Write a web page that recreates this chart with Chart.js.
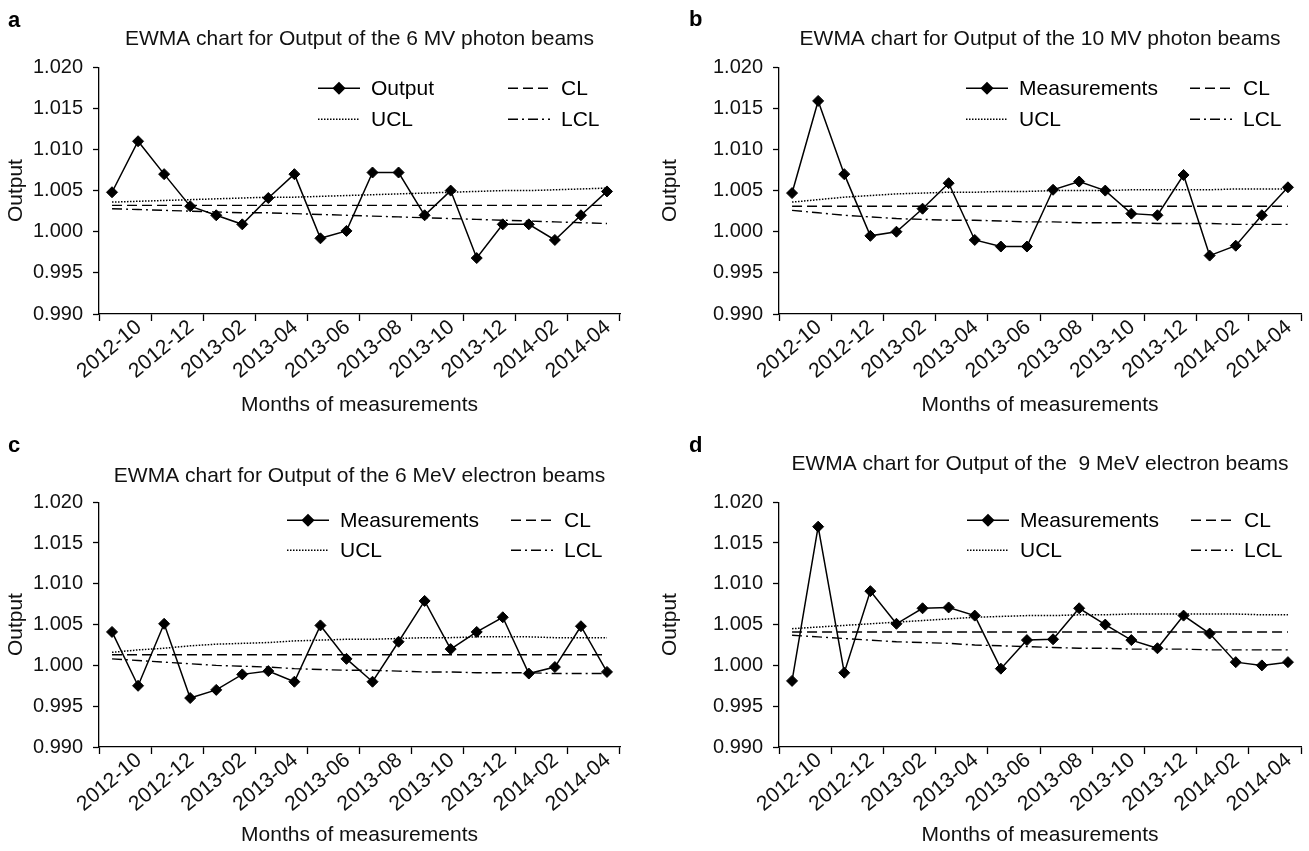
<!DOCTYPE html>
<html>
<head>
<meta charset="utf-8">
<title>EWMA charts for output</title>
<script src="https://cdn.jsdelivr.net/npm/chart.js@4.4.1/dist/chart.umd.min.js"></script>
<style>
  html, body { margin: 0; padding: 0; background: #fff; }
  #page { position: relative; width: 1309px; height: 851px; }
  #page canvas { position: absolute; }
</style>
</head>
<body>
<div id="page">
  <canvas id="chart-a" width="654" height="425" style="left:0;top:0"></canvas>
  <canvas id="chart-b" width="655" height="425" style="left:654px;top:0"></canvas>
  <canvas id="chart-c" width="654" height="426" style="left:0;top:425px"></canvas>
  <canvas id="chart-d" width="655" height="426" style="left:654px;top:425px"></canvas>
</div>
<script>
// months of measurements (20 monthly points)
const months = ['2012-10', '2012-11', '2012-12', '2013-01', '2013-02', '2013-03', '2013-04', '2013-05', '2013-06', '2013-07',
    '2013-08', '2013-09', '2013-10', '2013-11', '2013-12', '2014-01', '2014-02', '2014-03', '2014-04', '2014-05'];

const yTicks = { min: 0.990, max: 1.020, step: 0.005 };

// a - 6 MV photon
const photon6Output = [1.0048, 1.0110, 1.0070, 1.0031, 1.0020, 1.0009, 1.0041, 1.0070, 0.9992, 1.0001,
    1.0072, 1.0072, 1.0020, 1.0050, 0.9968, 1.0009, 1.0009, 0.9990, 1.0020, 1.0049];
const photon6UCL = [1.0036, 1.0037, 1.0038, 1.0039, 1.0040, 1.0041, 1.0042, 1.0042, 1.0043, 1.0044,
    1.0045, 1.0046, 1.0047, 1.0048, 1.0049, 1.0050, 1.0050, 1.0051, 1.0052, 1.0053];
const photon6CL = [1.0032, 1.0032, 1.0032, 1.0032, 1.0032, 1.0032, 1.0032, 1.0032, 1.0032, 1.0032,
    1.0032, 1.0032, 1.0032, 1.0032, 1.0032, 1.0032, 1.0032, 1.0032, 1.0032, 1.0032];
const photon6LCL = [1.0028, 1.0027, 1.0026, 1.0025, 1.0024, 1.0023, 1.0023, 1.0022, 1.0021, 1.0020,
    1.0019, 1.0018, 1.0017, 1.0016, 1.0015, 1.0014, 1.0013, 1.0012, 1.0011, 1.0010];

// b - 10 MV photon
const photon10Output = [1.0047, 1.0159, 1.0070, 0.9995, 1.0000, 1.0028, 1.0059, 0.9990, 0.9982, 0.9982,
    1.0051, 1.0061, 1.0050, 1.0022, 1.0020, 1.0069, 0.9971, 0.9983, 1.0020, 1.0054];
const photon10UCL = [1.0036, 1.0039, 1.0042, 1.0044, 1.0046, 1.0047, 1.0048, 1.0048, 1.0049, 1.0049,
    1.0050, 1.0050, 1.0050, 1.0051, 1.0051, 1.0051, 1.0051, 1.0052, 1.0052, 1.0052];
const photon10CL = [1.0031, 1.0031, 1.0031, 1.0031, 1.0031, 1.0031, 1.0031, 1.0031, 1.0031, 1.0031,
    1.0031, 1.0031, 1.0031, 1.0031, 1.0031, 1.0031, 1.0031, 1.0031, 1.0031, 1.0031];
const photon10LCL = [1.0026, 1.0023, 1.0020, 1.0018, 1.0016, 1.0015, 1.0014, 1.0014, 1.0013, 1.0012,
    1.0012, 1.0011, 1.0011, 1.0011, 1.0010, 1.0010, 1.0010, 1.0009, 1.0009, 1.0009];

// c - 6 MeV electron
const electron6Output = [1.0041, 0.9975, 1.0051, 0.9960, 0.9970, 0.9989, 0.9993, 0.9980, 1.0049, 1.0008,
    0.9980, 1.0029, 1.0079, 1.0020, 1.0041, 1.0059, 0.9990, 0.9998, 1.0048, 0.9992];
const electron6UCL = [1.0016, 1.0019, 1.0021, 1.0024, 1.0026, 1.0027, 1.0028, 1.0030, 1.0031, 1.0032,
    1.0032, 1.0033, 1.0034, 1.0034, 1.0035, 1.0035, 1.0035, 1.0034, 1.0034, 1.0034];
const electron6CL = [1.0013, 1.0013, 1.0013, 1.0013, 1.0013, 1.0013, 1.0013, 1.0013, 1.0013, 1.0013,
    1.0013, 1.0013, 1.0013, 1.0013, 1.0013, 1.0013, 1.0013, 1.0013, 1.0013, 1.0013];
const electron6LCL = [1.0008, 1.0006, 1.0004, 1.0002, 1.0000, 0.9999, 0.9998, 0.9996, 0.9995, 0.9994,
    0.9994, 0.9993, 0.9992, 0.9992, 0.9991, 0.9991, 0.9991, 0.9990, 0.9990, 0.9990];

// d - 9 MeV electron
const electron9Output = [0.9981, 1.0170, 0.9991, 1.0091, 1.0051, 1.0070, 1.0071, 1.0061, 0.9996, 1.0031,
    1.0032, 1.0070, 1.0050, 1.0031, 1.0021, 1.0061, 1.0039, 1.0004, 1.0000, 1.0004];
const electron9UCL = [1.0045, 1.0047, 1.0049, 1.0051, 1.0053, 1.0055, 1.0057, 1.0059, 1.0060, 1.0061,
    1.0061, 1.0062, 1.0062, 1.0063, 1.0063, 1.0063, 1.0063, 1.0063, 1.0062, 1.0062];
const electron9CL = [1.0041, 1.0041, 1.0041, 1.0041, 1.0041, 1.0041, 1.0041, 1.0041, 1.0041, 1.0041,
    1.0041, 1.0041, 1.0041, 1.0041, 1.0041, 1.0041, 1.0041, 1.0041, 1.0041, 1.0041];
const electron9LCL = [1.0037, 1.0035, 1.0033, 1.0031, 1.0029, 1.0028, 1.0027, 1.0025, 1.0024, 1.0023,
    1.0022, 1.0021, 1.0021, 1.0020, 1.0020, 1.0020, 1.0019, 1.0019, 1.0019, 1.0019];

const FONT = '"Liberation Sans", Arial, Helvetica, sans-serif';
Chart.defaults.font.family = FONT;
Chart.defaults.color = '#111';

// legend (2 x 2) and panel letter, drawn on top of the chart
const panelDecor = {
    id: 'panelDecor',
    afterDraw(chart, args, opts) {
        const ctx = chart.ctx;
        const area = chart.chartArea;
        ctx.save();
        ctx.fillStyle = '#000';
        ctx.font = 'bold 22px ' + FONT;
        ctx.textAlign = 'left';
        ctx.textBaseline = 'alphabetic';
        ctx.fillText(opts.letter, opts.letterX, opts.letterY);

        ctx.font = '21px ' + FONT;
        ctx.textBaseline = 'middle';
        chart.data.datasets.forEach(ds => {
            const x0 = area.left + opts.cols[ds.slot[0]];
            const y = area.top + opts.rows[ds.slot[1]];
            ctx.strokeStyle = ds.borderColor;
            ctx.lineWidth = ds.borderWidth;
            ctx.setLineDash(ds.borderDash || []);
            ctx.beginPath();
            ctx.moveTo(x0, y);
            ctx.lineTo(x0 + 42, y);
            ctx.stroke();
            ctx.setLineDash([]);
            if (ds.pointRadius > 0) {
                ctx.fillStyle = '#000';
                ctx.strokeStyle = '#000';
                Chart.helpers.drawPoint(ctx, { pointStyle: 'rectRot', radius: ds.pointRadius, borderWidth: 1, rotation: 0 }, x0 + 21, y);
            }
            ctx.fillStyle = '#000';
            ctx.fillText(ds.label, x0 + 53, y + 1);
        });
        ctx.restore();
    }
};

// only every second month gets a tick mark and a label
const everyOther = c => (c.index === undefined || c.index % 2 === 0) ? '#000' : 'rgba(0,0,0,0)';

function makeChart(id, p) {
    const ctx = document.getElementById(id);
    return new Chart(ctx, {
        type: 'line',
        data: {
            labels: months,
            datasets: [
                { label: p.mainLabel, data: p.output, slot: [0, 0], borderColor: '#000', borderWidth: 1.5,
                  pointStyle: 'rectRot', pointRadius: 5.5, pointBackgroundColor: '#000', pointBorderColor: '#000', pointBorderWidth: 1, tension: 0 },
                { label: 'CL', data: p.cl, slot: [1, 0], borderColor: '#000', borderWidth: 1.4, borderDash: [10, 5], pointRadius: 0, tension: 0 },
                { label: 'UCL', data: p.ucl, slot: [0, 1], borderColor: '#000', borderWidth: 1.5, borderDash: [1.5, 1.5], pointRadius: 0, tension: 0 },
                { label: 'LCL', data: p.lcl, slot: [1, 1], borderColor: '#000', borderWidth: 1.4, borderDash: [10, 4, 2, 4], pointRadius: 0, tension: 0 }
            ]
        },
        options: {
            responsive: false,
            animation: false,
            events: [],
            layout: { padding: { left: 0, right: p.padRight, top: 0, bottom: 0 } },
            plugins: {
                legend: { display: false },
                tooltip: { enabled: false },
                title: {
                    display: true,
                    text: p.title,
                    fullSize: false,
                    align: 'center',
                    color: '#111',
                    font: { size: 21, weight: 'normal', lineHeight: 1.2 },
                    padding: { top: p.titleTop, bottom: p.titleBottom }
                },
                panelDecor: p.decor
            },
            scales: {
                x: {
                    offset: true,
                    border: { display: true, color: '#000', width: 1.3 },
                    grid: {
                        offset: true,
                        drawOnChartArea: false,
                        drawTicks: true,
                        tickLength: 7,
                        tickWidth: 1.3,
                        color: everyOther,
                        tickColor: everyOther
                    },
                    ticks: {
                        autoSkip: false,
                        maxRotation: 40,
                        minRotation: 40,
                        padding: -6,
                        labelOffset: 27,
                        color: '#111',
                        font: { size: 21 },
                        callback: function (value, index) {
                            return index % 2 === 0 ? this.getLabelForValue(value) : '';
                        }
                    },
                    title: {
                        display: true,
                        text: 'Months of measurements',
                        color: '#111',
                        font: { size: 21, lineHeight: 1.2 },
                        padding: { top: 0, bottom: p.xTitleBottom }
                    },
                    afterFit: s => { s.height = p.bottomHeight; }
                },
                y: {
                    min: yTicks.min,
                    max: yTicks.max,
                    border: { display: true, color: '#000', width: 1.3 },
                    grid: { drawOnChartArea: false, drawTicks: true, tickLength: 6, tickWidth: 1.3, color: '#000' },
                    ticks: {
                        stepSize: yTicks.step,
                        padding: 10,
                        color: '#111',
                        font: { size: 20 },
                        callback: v => v.toFixed(3)
                    },
                    title: {
                        display: true,
                        text: 'Output',
                        color: '#111',
                        font: { size: 21, lineHeight: 1.2 },
                        padding: { top: 4, bottom: 0 }
                    },
                    afterFit: s => { s.width = p.leftWidth; }
                }
            }
        },
        plugins: [panelDecor]
    });
}

makeChart('chart-a', {
    title: 'EWMA chart for Output of the 6 MV photon beams', mainLabel: 'Output',
    output: photon6Output, ucl: photon6UCL, cl: photon6CL, lcl: photon6LCL,
    leftWidth: 99, padRight: 34, titleTop: 27, titleBottom: 15, bottomHeight: 111, xTitleBottom: 7,
    decor: { letter: 'a', letterX: 8, letterY: 27, cols: [219, 409], rows: [21, 52] }
});
makeChart('chart-b', {
    title: 'EWMA chart for Output of the 10 MV photon beams', mainLabel: 'Measurements',
    output: photon10Output, ucl: photon10UCL, cl: photon10CL, lcl: photon10LCL,
    leftWidth: 125, padRight: 8, titleTop: 27, titleBottom: 15, bottomHeight: 111, xTitleBottom: 7,
    decor: { letter: 'b', letterX: 35, letterY: 26, cols: [187, 411], rows: [21, 52] }
});
makeChart('chart-c', {
    title: 'EWMA chart for Output of the 6 MeV electron beams', mainLabel: 'Measurements',
    output: electron6Output, ucl: electron6UCL, cl: electron6CL, lcl: electron6LCL,
    leftWidth: 99, padRight: 34, titleTop: 39, titleBottom: 13, bottomHeight: 104, xTitleBottom: 3,
    decor: { letter: 'c', letterX: 8, letterY: 27, cols: [188, 412], rows: [18, 48] }
});
makeChart('chart-d', {
    title: 'EWMA chart for Output of the  9 MeV electron beams', mainLabel: 'Measurements',
    output: electron9Output, ucl: electron9UCL, cl: electron9CL, lcl: electron9LCL,
    leftWidth: 125, padRight: 8, titleTop: 27, titleBottom: 25, bottomHeight: 104, xTitleBottom: 3,
    decor: { letter: 'd', letterX: 35, letterY: 27, cols: [188, 412], rows: [18, 48] }
});
</script>
</body>
</html>
